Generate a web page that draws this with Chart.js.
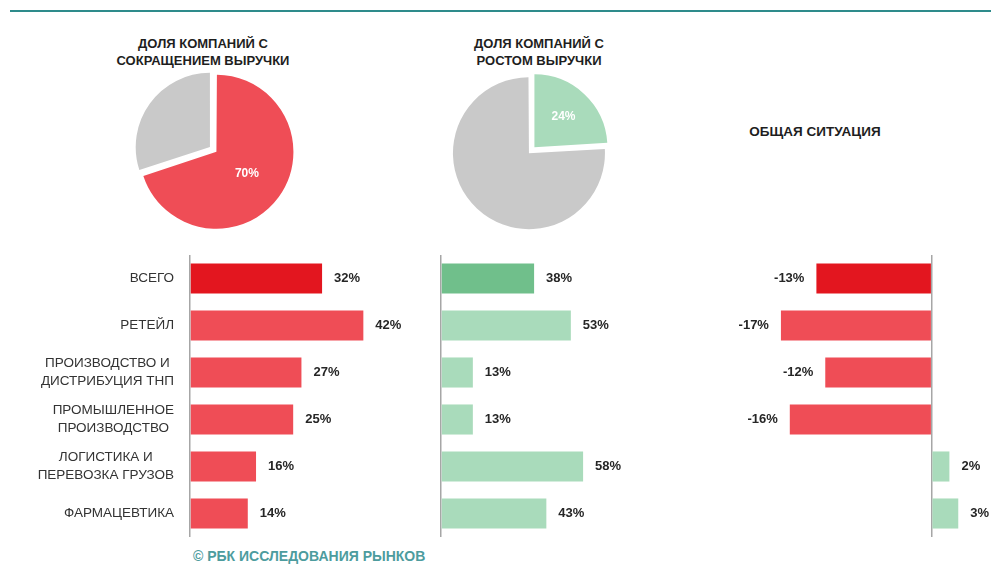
<!DOCTYPE html>
<html>
<head>
<meta charset="utf-8">
<script src="https://cdn.jsdelivr.net/npm/chart.js"></script>
<style>
  body { margin: 0; width: 991px; height: 571px; background: #fff; position: relative; overflow: hidden;
         font-family: 'Liberation Sans', Arial, sans-serif; }
  .topline { position: absolute; left: 10px; top: 10px; width: 981px; height: 2px; background: #2e8b8b; }
  .title { position: absolute; width: 240px; font-weight: bold; font-size: 13px; line-height: 17px;
           color: #1e1e1e; text-align: center; }
  .box { position: absolute; }
  .footer { position: absolute; left: 193px; top: 548px; font-weight: bold; font-size: 14px; color: #4d9c9e; }
</style>
</head>
<body>
<div class="topline"></div>
<div class="title" style="left:83px; top:35px">ДОЛЯ КОМПАНИЙ С<br>СОКРАЩЕНИЕМ ВЫРУЧКИ</div>
<div class="title" style="left:419px; top:35px">ДОЛЯ КОМПАНИЙ С<br>РОСТОМ ВЫРУЧКИ</div>
<div class="title" style="left:695px; top:123px; font-size:13.5px">ОБЩАЯ СИТУАЦИЯ</div>

<div class="box" style="left:130px; top:66px; width:168px; height:168px"><canvas id="pieDecline"></canvas></div>
<div class="box" style="left:448px; top:68px; width:166px; height:166px"><canvas id="pieGrowth"></canvas></div>

<div class="box" style="left:0px; top:255px; width:417px; height:282px"><canvas id="barDecline"></canvas></div>
<div class="box" style="left:431px; top:255px; width:255px; height:282px"><canvas id="barGrowth"></canvas></div>
<div class="box" style="left:700px; top:255px; width:291px; height:282px"><canvas id="barOverall"></canvas></div>

<div class="footer">© РБК ИССЛЕДОВАНИЯ РЫНКОВ</div>

<script>
// data
const categories = [
    ['ВСЕГО'],
    ['РЕТЕЙЛ'],
    ['ПРОИЗВОДСТВО И', 'ДИСТРИБУЦИЯ ТНП'],
    ['ПРОМЫШЛЕННОЕ', 'ПРОИЗВОДСТВО'],
    ['ЛОГИСТИКА И', 'ПЕРЕВОЗКА ГРУЗОВ'],
    ['ФАРМАЦЕВТИКА']
];
const declineShare = [32, 42, 27, 25, 16, 14];
const growthShare = [38, 53, 13, 13, 58, 43];
const overallChange = [-13, -17, -12, -16, 2, 3];

const pieLabels = ['Выделенная доля', 'Остальные'];
const pieDeclineValues = [70, 30];
const pieGrowthValues = [24, 76];

const RED_DARK = '#e3161f';
const RED = '#ef4d56';
const GREEN_DARK = '#70bf8b';
const GREEN = '#a9dbbb';
const GRAY = '#c9c9c9';
const FONT = '"Liberation Sans", Arial, sans-serif';

const valueLabels = {
    id: 'valueLabels',
    afterDatasetsDraw(chart) {
        const ctx = chart.ctx;
        const data = chart.data.datasets[0].data;
        ctx.save();
        ctx.font = 'bold 13px ' + FONT;
        ctx.fillStyle = '#262626';
        ctx.textBaseline = 'middle';
        chart.getDatasetMeta(0).data.forEach(function (bar, i) {
            const v = data[i];
            if (v < 0) {
                ctx.textAlign = 'right';
                ctx.fillText(v + '%', bar.x - 12, bar.y);
            } else {
                ctx.textAlign = 'left';
                ctx.fillText(v + '%', bar.x + 12, bar.y);
            }
        });
        ctx.restore();
    }
};

// multi-line category names, each block centred on its longest line
const categoryLabels = {
    id: 'categoryLabels',
    afterDraw(chart) {
        const ctx = chart.ctx;
        const right = chart.chartArea.left - 16;
        const bars = chart.getDatasetMeta(0).data;
        ctx.save();
        ctx.font = '13.5px ' + FONT;
        ctx.fillStyle = '#333333';
        ctx.textAlign = 'center';
        ctx.textBaseline = 'middle';
        chart.data.labels.forEach(function (lines, i) {
            const w = Math.max.apply(null, lines.map(l => ctx.measureText(l).width));
            const cy = bars[i].y;
            lines.forEach(function (line, k) {
                ctx.fillText(line, right - w / 2, cy + (k - (lines.length - 1) / 2) * 18);
            });
        });
        ctx.restore();
    }
};

function barChart(id, values, colors, xMin, xMax, padding, extraPlugins) {
    return new Chart(document.getElementById(id), {
        type: 'bar',
        data: {
            labels: categories,
            datasets: [{
                data: values,
                backgroundColor: colors,
                borderWidth: 0,
                barPercentage: 0.64,
                categoryPercentage: 1
            }]
        },
        options: {
            indexAxis: 'y',
            responsive: true,
            maintainAspectRatio: false,
            animation: false,
            events: [],
            layout: { padding: padding },
            scales: {
                x: {
                    min: xMin,
                    max: xMax,
                    ticks: { display: false, stepSize: 5 },
                    border: { display: false },
                    grid: {
                        drawTicks: false,
                        lineWidth: 1.5,
                        color: c => (c.tick && c.tick.value === 0) ? '#a6a6a6' : 'rgba(0,0,0,0)'
                    }
                },
                y: { display: false }
            },
            plugins: { legend: { display: false }, tooltip: { enabled: false } }
        },
        plugins: [valueLabels].concat(extraPlugins || [])
    });
}

function pieLabel(frac) {
    return {
        id: 'pieLabel',
        afterDatasetsDraw(chart) {
            const arc = chart.getDatasetMeta(0).data[0];
            const a = (arc.startAngle + arc.endAngle) / 2;
            const r = arc.outerRadius * frac;
            const ctx = chart.ctx;
            ctx.save();
            ctx.font = 'bold 12px ' + FONT;
            ctx.fillStyle = '#ffffff';
            ctx.textAlign = 'center';
            ctx.textBaseline = 'middle';
            ctx.fillText(chart.data.datasets[0].data[0] + '%', arc.x + Math.cos(a) * r, arc.y + Math.sin(a) * r);
            ctx.restore();
        }
    };
}

// offsets: the larger slice gets a smaller one, since Chart.js also grows its radius
function pieChart(id, values, colors, offsets, frac) {
    return new Chart(document.getElementById(id), {
        type: 'pie',
        data: {
            labels: pieLabels,
            datasets: [{
                data: values,
                backgroundColor: colors,
                borderWidth: 0,
                offset: offsets,
                hoverOffset: 0
            }]
        },
        options: {
            responsive: true,
            maintainAspectRatio: false,
            animation: false,
            events: [],
            plugins: { legend: { display: false }, tooltip: { enabled: false } }
        },
        plugins: [pieLabel(frac)]
    });
}

pieChart('pieDecline', pieDeclineValues, [RED, GRAY], [12, 20], 0.55);
pieChart('pieGrowth', pieGrowthValues, [GREEN, GRAY], [20, 12], 0.65);

barChart('barDecline', declineShare, declineShare.map((v, i) => i === 0 ? RED_DARK : RED),
    0, 55, { left: 190, right: 0 }, [categoryLabels]);
barChart('barGrowth', growthShare, growthShare.map((v, i) => i === 0 ? GREEN_DARK : GREEN),
    0, 100, { left: 10, right: 0 });
barChart('barOverall', overallChange,
    overallChange.map((v, i) => v >= 0 ? GREEN : (i === 0 ? RED_DARK : RED)),
    -25, 5, { left: 10, right: 15 });
</script>
</body>
</html>
